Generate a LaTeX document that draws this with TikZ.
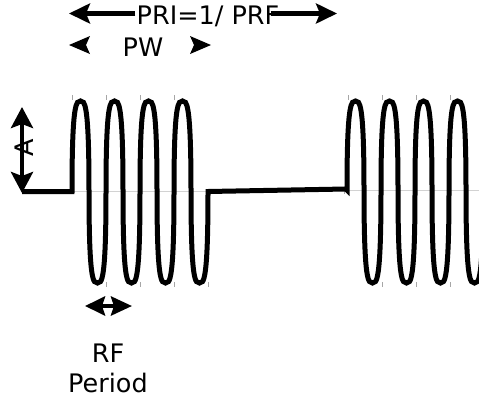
\documentclass[tikz,border=0pt]{standalone}
\usepackage{fontspec}
\setmainfont{DejaVu Sans}
\usetikzlibrary{arrows.meta}
\begin{document}
\begin{tikzpicture}[x=1pt,y=-1pt,
  wave/.style={line width=5pt,line join=miter},
  dim/.style={line width=4.2pt},
  lbl/.style={inner sep=0pt,font=\fontsize{25.5}{30}\selectfont},
  tick/.style={gray!70,line width=0.8pt},
  axisline/.style={gray!35,line width=0.6pt}]
\useasboundingbox (0,0) rectangle (479,405);
\clip (0,0) rectangle (479,405);
% faint centre lines and ticks
\draw[axisline] (72,191.5) -- (208,191.5);
\draw[axisline] (347,190) -- (479,190);
\foreach \x in {72,106,140,174,348,382,416,450} \draw[tick] (\x,95) -- (\x,100);
\foreach \x in {106,140,174,208,382,416,450} \draw[tick] (\x,282) -- (\x,287);
\draw[tick] (344,189) -- (344,194);
% waveform
\draw[wave] (22,191.5) -- (72,191.5)
  \foreach \i in {0,...,3}{
    .. controls ({72+34*\i},101) and ({72+34*\i+4.5},101) .. ({72+34*\i+8.5},101)
    .. controls ({72+34*\i+12.5},101) and ({72+34*\i+17},101) .. ({72+34*\i+17},191.5)
    .. controls ({72+34*\i+17},283) and ({72+34*\i+21.5},283) .. ({72+34*\i+25.5},283)
    .. controls ({72+34*\i+29.5},283) and ({72+34*\i+34},283) .. ({72+34*\i+34},191.5)
  }
  -- (346,189) -- (347,190)
  \foreach \i in {0,...,3}{
    .. controls ({347+34*\i},101) and ({347+34*\i+4.5},101) .. ({347+34*\i+8.5},101)
    .. controls ({347+34*\i+12.5},101) and ({347+34*\i+17},101) .. ({347+34*\i+17},190)
    .. controls ({347+34*\i+17},283) and ({347+34*\i+21.5},283) .. ({347+34*\i+25.5},283)
    .. controls ({347+34*\i+29.5},283) and ({347+34*\i+34},283) .. ({347+34*\i+34},190)
  };
% amplitude arrow
\coordinate (abot) at (22,193);
\coordinate (atop) at (22,107);
\draw[dim,{Stealth[length=21pt,width=22pt,inset=4pt]}-{Stealth[length=21pt,width=22pt,inset=4pt]}] (abot) -- (atop);
\node[lbl,rotate=90] (alab) at (24.5,148) {A};
% PRI arrow
\node[lbl] (pri) at (208,16) {PRI=1/ PRF};
\coordinate (prileft) at (69,13.5);
\coordinate (priright) at (337,13.5);
\draw[dim,-{Stealth[length=21pt,width=20pt,inset=4pt]}] (pri.west |- prileft) ++(-1,0) -- (prileft);
\draw[dim,-{Stealth[length=21pt,width=20pt,inset=4pt]}] ([xshift=-9pt]pri.east |- priright) -- (priright);
% PW markers
\node[lbl] (pw) at (143,47) {PW};
\coordinate (pwl) at (69,45);
\coordinate (pwr) at (211,45);
\fill (pwl) -- ++(21,-9) -- ++(-4,9) -- ++(4,9) -- cycle;
\fill (pwr) -- ++(-21,-9) -- ++(4,9) -- ++(-4,9) -- cycle;
% RF period
\coordinate (rfl) at (85,306);
\coordinate (rfr) at (132,306);
\draw[dim,{Stealth[length=20pt,width=19pt,inset=3pt]}-{Stealth[length=21pt,width=19pt,inset=3pt]}] (rfl) -- (rfr);
\node[lbl,align=center] (rf) at (108,368) {RF\\Period};
\end{tikzpicture}
\end{document}
